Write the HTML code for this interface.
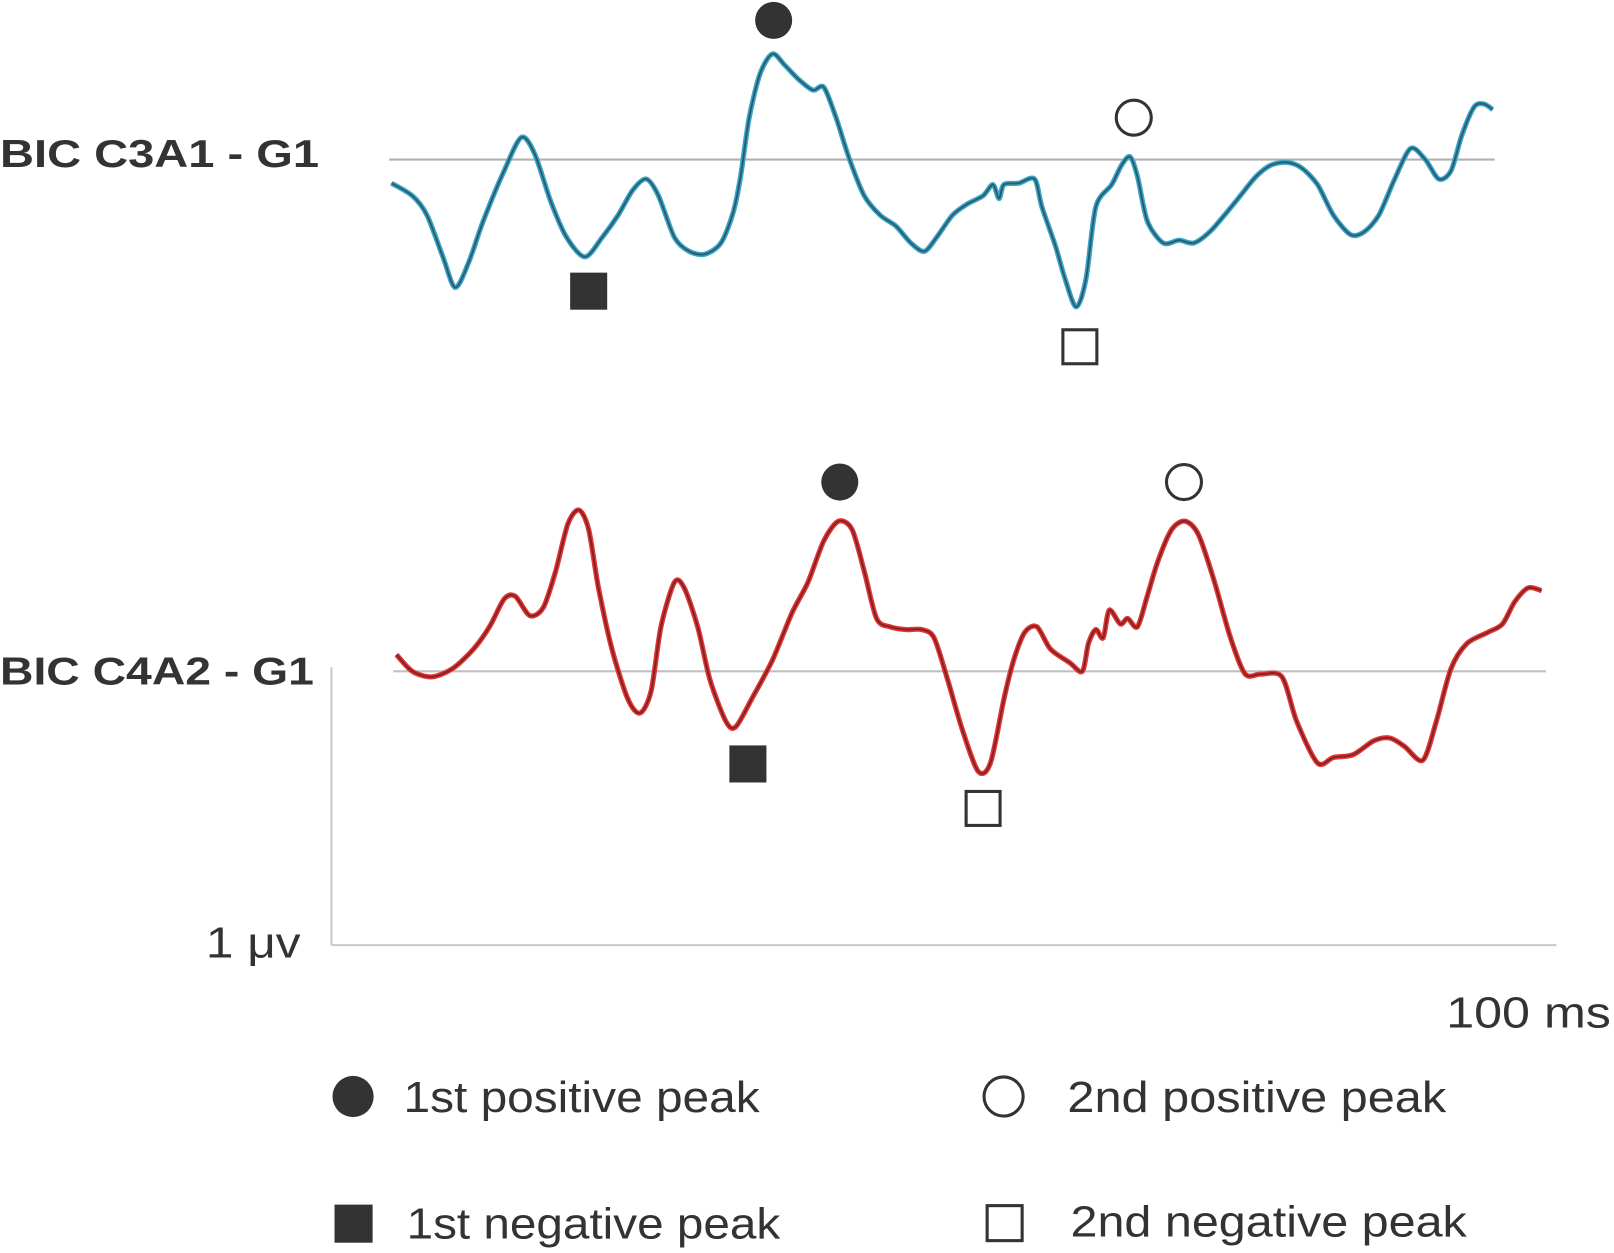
<!DOCTYPE html>
<html><head><meta charset="utf-8"><style>
html,body{margin:0;padding:0;background:#fff;width:1614px;height:1253px;overflow:hidden}
svg{display:block}
text{font-family:"Liberation Sans","DejaVu Sans",sans-serif;fill:#333}
</style></head><body>
<svg id="chart" width="1614" height="1253" viewBox="0 0 1568 1217" preserveAspectRatio="none" xmlns="http://www.w3.org/2000/svg">
<g id="axes">
<line x1="322" y1="648" x2="322" y2="918" stroke="#c8c8c8" stroke-width="2"/>
<line x1="322" y1="918" x2="1512" y2="918" stroke="#c8c8c8" stroke-width="2"/>
<text x="200" y="930" font-size="42" textLength="92" lengthAdjust="spacingAndGlyphs">1 μv</text>
<text x="1405" y="998" font-size="42" textLength="160" lengthAdjust="spacingAndGlyphs">100 ms</text>
</g>
<text x="0" y="162" font-size="38" font-weight="bold" textLength="310" lengthAdjust="spacingAndGlyphs">BIC C3A1 - G1</text>
<text x="0" y="665" font-size="38" font-weight="bold" textLength="305" lengthAdjust="spacingAndGlyphs">BIC C4A2 - G1</text>
<line x1="378" y1="155" x2="1452" y2="155" stroke="#b0b0b0" stroke-width="2"/>
<line x1="382" y1="652" x2="1502" y2="652" stroke="#c0c0c0" stroke-width="2"/>
<g id="traces"></g>
<g id="markers"></g>
<g id="legend">
<circle cx="343" cy="1065" r="20" fill="#333"/>
<text x="392" y="1080" font-size="42" textLength="346" lengthAdjust="spacingAndGlyphs">1st positive peak</text>
<rect x="325" y="1170" width="37" height="37" fill="#333"/>
<text x="395" y="1203" font-size="42" textLength="363" lengthAdjust="spacingAndGlyphs">1st negative peak</text>
<circle cx="975" cy="1065" r="19" fill="none" stroke="#333" stroke-width="3"/>
<text x="1037" y="1080" font-size="42" textLength="368" lengthAdjust="spacingAndGlyphs">2nd positive peak</text>
<rect x="959" y="1171" width="34" height="34" fill="none" stroke="#333" stroke-width="3"/>
<text x="1040" y="1201" font-size="42" textLength="385" lengthAdjust="spacingAndGlyphs">2nd negative peak</text>
</g>
</svg>
<script>
const c3Times=[4.9,6.6,7.8,9.1,10.1,11.2,12.4,14.1,15.5,16.6,17.9,19.2,20.7,22.1,23.4,24.6,25.7,26.7,28.0,29.2,30.5,31.8,32.8,33.4,34.1,35.0,36.0,37.0,38.1,39.3,40.2,41.2,42.3,43.5,44.8,46.1,47.3,48.4,49.4,50.7,51.9,53.2,54.0,54.5,54.9,56.1,57.4,58.0,59.1,59.9,60.8,61.6,62.4,63.7,64.5,65.2,65.8,66.6,67.9,69.2,70.4,71.7,72.9,74.2,75.5,76.7,78.0,79.2,80.5,81.8,83.2,84.3,85.5,86.8,88.1,89.3,90.4,91.4,92.3,93.3,94.1,94.8];
const c3Values=[-0.085,-0.13,-0.20,-0.35,-0.46,-0.37,-0.22,-0.04,0.08,0.02,-0.15,-0.28,-0.35,-0.28,-0.20,-0.11,-0.07,-0.13,-0.28,-0.33,-0.34,-0.30,-0.19,-0.06,0.15,0.31,0.38,0.34,0.29,0.25,0.26,0.15,0,-0.13,-0.20,-0.24,-0.30,-0.33,-0.28,-0.20,-0.16,-0.13,-0.09,-0.14,-0.09,-0.085,-0.07,-0.17,-0.31,-0.43,-0.53,-0.43,-0.17,-0.09,-0.02,0.01,-0.06,-0.22,-0.30,-0.29,-0.30,-0.26,-0.20,-0.13,-0.06,-0.02,-0.01,-0.03,-0.09,-0.20,-0.27,-0.26,-0.20,-0.07,0.04,0,-0.07,-0.04,0.09,0.19,0.20,0.18];
const c4Times=[5.3,6.6,8.2,9.9,11.6,12.9,14.1,15.0,16.2,17.3,18.3,19.3,20.2,21.0,21.8,22.9,24.2,25.2,26.1,26.9,28.0,28.8,29.9,30.9,32.2,33.0,34.3,36.0,37.6,38.9,40.2,41.4,42.5,43.5,44.5,45.6,46.9,48.2,49.2,50.3,51.5,52.8,53.8,54.9,55.7,56.6,57.6,58.7,60.3,61.3,61.8,62.4,63.0,63.5,64.4,65.0,65.8,66.6,67.5,68.6,69.7,70.8,72.1,73.4,74.6,75.9,77.6,78.8,80.5,81.8,83.4,85.1,86.4,87.6,89.1,90.2,91.4,92.7,94.4,95.6,96.6,97.7,98.8];
const c4Values=[0.06,0,-0.02,0.01,0.08,0.16,0.26,0.27,0.20,0.23,0.36,0.53,0.58,0.51,0.30,0.08,-0.10,-0.15,-0.07,0.16,0.32,0.30,0.16,-0.03,-0.18,-0.20,-0.10,0.04,0.21,0.32,0.47,0.54,0.51,0.36,0.19,0.16,0.15,0.15,0.12,-0.03,-0.21,-0.36,-0.33,-0.10,0.04,0.14,0.16,0.08,0.03,0,0.10,0.15,0.12,0.22,0.17,0.19,0.16,0.27,0.40,0.51,0.54,0.49,0.32,0.12,-0.01,-0.01,-0.02,-0.18,-0.33,-0.31,-0.30,-0.25,-0.24,-0.27,-0.32,-0.18,0.01,0.10,0.14,0.17,0.25,0.30,0.29];
// peak markers
const markerTrace=['c3','c3','c3','c3','c4','c4','c4','c4'];
const markerTimes=[36.1,21.0,65.5,61.1,41.5,34.0,69.6,53.2];
const markerValues=[0.36,-0.34,0.01,-0.54,0.54,-0.20,0.54,-0.36];
const markerTypes=['pos1','neg1','pos2','neg2','pos1','neg1','pos2','neg2'];

const NS='http://www.w3.org/2000/svg';
const X0=322,PXMS=11.9,PXUV=270;
const baselines={c3:155,c4:652};
function xScale(t){return X0+t*PXMS;}
function yScale(v,tr){return baselines[tr]-v*PXUV;}
function pathFor(ts,vs,tr){
  const p=ts.map((t,i)=>[xScale(t),yScale(vs[i],tr)]);
  let d='M'+p[0][0].toFixed(1)+','+p[0][1].toFixed(1);
  for(let i=0;i<p.length-1;i++){
    const p0=p[i-1]||p[i],p1=p[i],p2=p[i+1],p3=p[i+2]||p2;
    const k=7;
    const c1x=p1[0]+(p2[0]-p0[0])/k,c1y=p1[1]+(p2[1]-p0[1])/k;
    const c2x=p2[0]-(p3[0]-p1[0])/k,c2y=p2[1]-(p3[1]-p1[1])/k;
    d+='C'+c1x.toFixed(1)+','+c1y.toFixed(1)+' '+c2x.toFixed(1)+','+c2y.toFixed(1)+' '+p2[0].toFixed(1)+','+p2[1].toFixed(1);
  }
  return d;
}
const tg=document.getElementById('traces');
function addTrace(ts,vs,tr,outer,inner,name){
  const d=pathFor(ts,vs,tr);
  const a=document.createElementNS(NS,'path');
  
  
  a.setAttribute('d',d);a.setAttribute('fill','none');a.setAttribute('stroke',outer);a.setAttribute('stroke-width','5');a.setAttribute('stroke-linejoin','round');
  tg.appendChild(a);
  const b=document.createElementNS(NS,'path');
  
  
  b.setAttribute('d',d);b.setAttribute('fill','none');b.setAttribute('stroke',inner);b.setAttribute('stroke-width','2');b.setAttribute('stroke-linejoin','round');
  tg.appendChild(b);
}
addTrace(c3Times,c3Values,'c3','#3aa6c9','#2a5d70','c3a1-trace');
addTrace(c4Times,c4Values,'c4','#e03838','#8a2020','c4a2-trace');

const mg=document.getElementById('markers');
markerTimes.forEach((t,i)=>{
  const tr=markerTrace[i],ty=markerTypes[i];
  const x=xScale(t),y=yScale(markerValues[i],tr);
  let el;
  if(ty==='pos1'||ty==='pos2'){
    el=document.createElementNS(NS,'circle');
    el.setAttribute('cx',x);el.setAttribute('cy',y-38);
    if(ty==='pos1'){el.setAttribute('r',18);el.setAttribute('fill','#333');}
    else{el.setAttribute('r',17);el.setAttribute('fill','none');el.setAttribute('stroke','#333');el.setAttribute('stroke-width','3');}
  }else{
    el=document.createElementNS(NS,'rect');
    const s=ty==='neg1'?36:33;
    el.setAttribute('x',x-s/2);el.setAttribute('y',y+36-s/2);el.setAttribute('width',s);el.setAttribute('height',s);
    if(ty==='neg1'){el.setAttribute('fill','#333');}
    else{el.setAttribute('fill','none');el.setAttribute('stroke','#333');el.setAttribute('stroke-width','3');}
  }
  
  
  mg.appendChild(el);
});
</script>
</body></html>
